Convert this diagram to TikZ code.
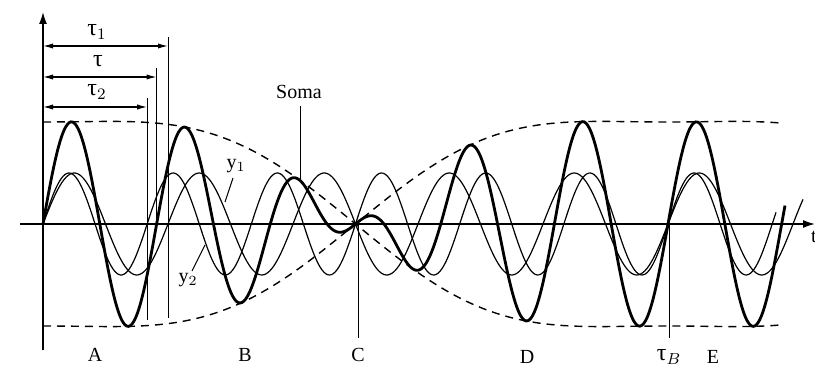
\documentclass[tikz,border=0pt]{standalone}
\usepackage{fontspec}
\setmainfont{Liberation Serif}
\usetikzlibrary{arrows.meta}

\begin{document}
\begin{tikzpicture}[x=0.5pt,y=0.5pt,
    declare function={
      yone(\x)=51*sin(2.88*\x);
      ytwo(\x)=51*sin(3.4559*\x);
      cb(\x)=cos(0.288*\x);
      ev(\x)=102*cb(\x)*(1.6-0.6*cb(\x)*cb(\x));
      soma(\x)=ev(\x)*sin(3.1679*\x);
    },
    wave/.style={line width=0.6pt,smooth,samples=400},
    sumwave/.style={line width=1.4pt,smooth,samples=400},
    envelope/.style={line width=0.7pt,dash pattern=on 4pt off 3pt,smooth,samples=150},
    axis/.style={line width=0.8pt,-{Latex[length=6pt,width=4pt]}},
    dim/.style={line width=0.6pt,{Latex[length=5pt,width=2.6pt]}-{Latex[length=5pt,width=2.6pt]}},
    marker/.style={line width=0.5pt},
    lead/.style={line width=0.5pt},
    taulab/.style={font=\large}]
    \useasboundingbox (-43,-144) rectangle (772,224);

    % axes
    \coordinate (xl) at (-23,0);
    \coordinate (xr) at (772,0);
    \coordinate (yb) at (0,-126);
    \coordinate (yt) at (0,212);
    \draw[axis] (xl) -- (xr);
    \draw[axis] (yb) -- (yt);
    \node (tlab) at (771,-13) {t};

    % envelope
    \draw[envelope] plot[domain=0:740] (\x,{ev(\x)});
    \draw[envelope] plot[domain=0:740] (\x,{-ev(\x)});

    % the two waves and their sum
    \draw[wave] plot[domain=0:760] (\x,{yone(\x)});
    \draw[wave] plot[domain=0:733] (\x,{ytwo(\x)});
    \draw[sumwave] plot[domain=0:742] (\x,{soma(\x)});

    % periods
    \coordinate (p1) at (125,187);
    \coordinate (p1b) at (125,-94);
    \coordinate (p0) at (113.6,156);
    \coordinate (p0b) at (113.6,0);
    \coordinate (p2) at (104.2,126);
    \coordinate (p2b) at (104.2,-96);
    \draw[marker] (p1) -- (p1b);
    \draw[marker] (p0) -- (p0b);
    \draw[marker] (p2) -- (p2b);
    \coordinate (d1) at (0,178);
    \coordinate (d0) at (0,147);
    \coordinate (d2) at (0,117);
    \draw[dim] (d1) -- (d1 -| p1);
    \draw[dim] (d0) -- (d0 -| p0);
    \draw[dim] (d2) -- (d2 -| p2);
    \node[taulab] (tau1) at (54,192) {τ$_1$};
    \node[taulab] (tau) at (55,163) {τ};
    \node[taulab] (tau2) at (54,132) {τ$_2$};

    % labels on the curves
    \node (somalab) at (256,132) {Soma};
    \coordinate (somapt) at (257,45);
    \draw[lead] (somalab.south -| somapt) -- (somapt);
    \node (y1lab) at (193,58) {y$_1$};
    \coordinate (y1pt) at (182,22);
    \draw[lead] (190,46) -- (y1pt);
    \node (y2lab) at (145,-56) {y$_2$};
    \coordinate (y2pt) at (162,-21);
    \draw[lead] (149,-47) -- (y2pt);

    % regions
    \coordinate (cpt) at (315,0);
    \coordinate (cbot) at (315,-114);
    \draw[marker] (cpt) -- (cbot);
    \coordinate (bpt) at (626,0);
    \coordinate (bbot) at (626,-114);
    \draw[marker] (bpt) -- (bbot);
    \node (regA) at (52,-131) {A};
    \node (regB) at (202,-131) {B};
    \node (regC) at (315,-131) {C};
    \node (regD) at (484,-133) {D};
    \node[taulab] (tauB) at (626,-133) {τ$_B$};
    \node (regE) at (670,-133) {E};
\end{tikzpicture}
\end{document}
